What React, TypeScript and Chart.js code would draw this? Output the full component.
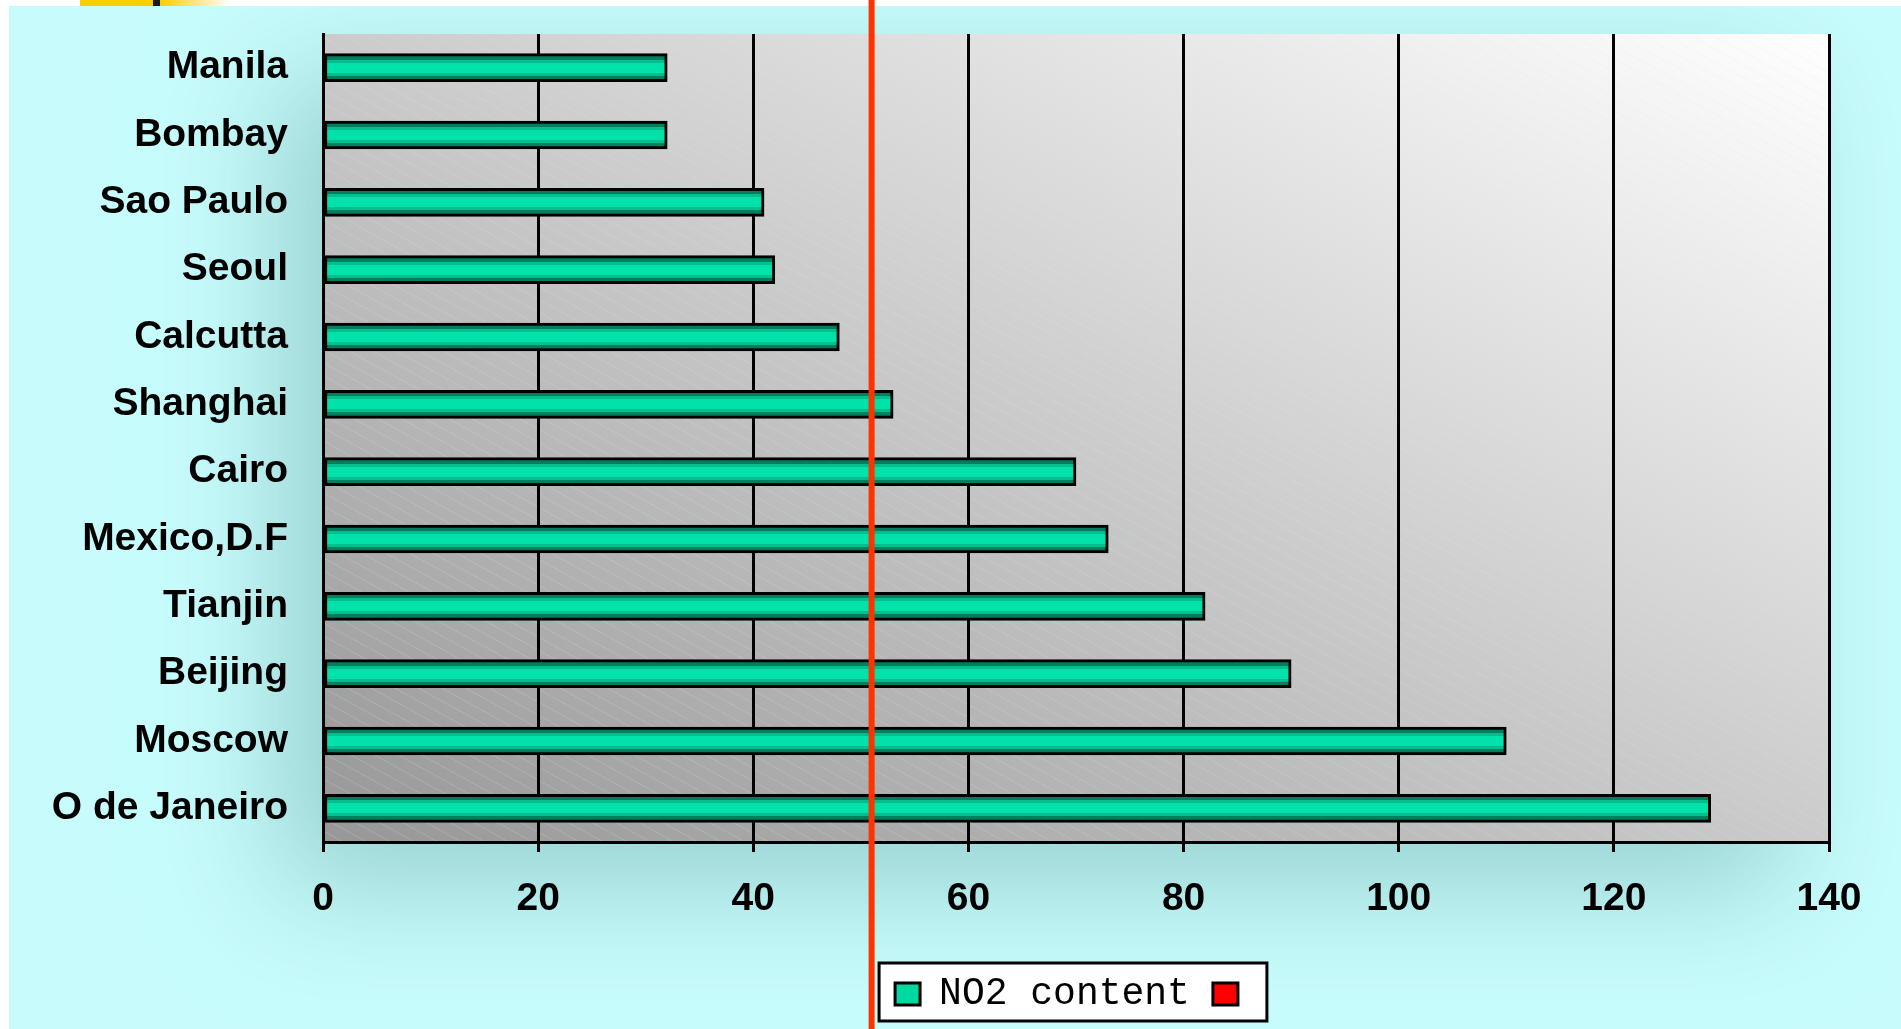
import React, { useEffect, useRef } from "react";
import { Chart, registerables } from "chart.js";

Chart.register(...registerables);

const CITIES = [
  "Manila",
  "Bombay",
  "Sao Paulo",
  "Seoul",
  "Calcutta",
  "Shanghai",
  "Cairo",
  "Mexico,D.F",
  "Tianjin",
  "Beijing",
  "Moscow",
  "O de Janeiro",
];
const NO2_VALUES = [32, 32, 41, 42, 48, 53, 70, 73, 82, 90, 110, 129];
const SERIES_LABEL = "NO2 content";
const SECOND_LABEL = "";
const X_MIN = 0;
const X_MAX = 140;
const X_STEP = 20;
const MARKER_VALUE = 51;

const W = 1901;
const H = 1029;
const BAR_T = 28;
const LEG_PAD = 23;
const GREEN = "#00E2AA";

const bandGradient = (ctx: any) => {
  const chart = ctx.chart;
  const ys = chart.scales && chart.scales.y;
  if (ctx.type !== "data" || !ys || !chart.chartArea) return GREEN;
  const c = ys.getPixelForValue(ctx.dataIndex);
  if (!isFinite(c)) return GREEN;
  const t = c - BAR_T / 2;
  const g = chart.ctx.createLinearGradient(0, t, 0, t + BAR_T);
  const bands: [number, string][] = [
    [0, "#007E5E"],
    [6, "#00BE8E"],
    [9, GREEN],
    [19, "#00BE8E"],
    [22, "#007E5E"],
  ];
  for (let i = 0; i < bands.length; i++) {
    const s = bands[i][0] / BAR_T;
    const e = (i + 1 < bands.length ? bands[i + 1][0] : BAR_T) / BAR_T;
    g.addColorStop(s, bands[i][1]);
    g.addColorStop(Math.min(1, e - 0.0001), bands[i][1]);
  }
  return g;
};

const backgroundPlugin = {
  id: "pageBackground",
  beforeDraw(chart: any) {
    const { ctx, chartArea: a } = chart;
    ctx.save();
    ctx.fillStyle = "#FFFFFF";
    ctx.fillRect(0, 0, W, H);
    // top decoration
    ctx.fillStyle = "#FFCC00";
    ctx.fillRect(80, 0, 73, 6);
    ctx.fillStyle = "#1A1A1A";
    ctx.fillRect(153, 0, 7, 6);
    const yg = ctx.createLinearGradient(160, 0, 230, 0);
    yg.addColorStop(0, "#FFCC00");
    yg.addColorStop(1, "#FFFFFF");
    ctx.fillStyle = yg;
    ctx.fillRect(160, 0, 70, 6);
    // cyan slide
    ctx.fillStyle = "#C8FCFC";
    ctx.fillRect(9, 6, W - 9, H - 6);
    // soft shadow
    ctx.save();
    ctx.beginPath();
    ctx.rect(9, 6, W - 9, H - 6);
    ctx.clip();
    ctx.shadowColor = "rgba(0,70,70,0.24)";
    ctx.shadowBlur = 110;
    ctx.shadowOffsetX = -45;
    ctx.shadowOffsetY = 45;
    ctx.fillStyle = "#C8FCFC";
    ctx.fillRect(a.left, a.top, a.right - a.left, a.bottom - a.top);
    ctx.restore();
    // plot area gradient
    const w = a.right - a.left;
    const h = a.bottom - a.top;
    const cx = (a.left + a.right) / 2;
    const cy = (a.top + a.bottom) / 2;
    const s = (w * h) / (w * w + h * h);
    const pg = ctx.createLinearGradient(cx - s * h, cy + s * w, cx + s * h, cy - s * w);
    pg.addColorStop(0, "#979797");
    pg.addColorStop(1, "#FFFFFF");
    ctx.fillStyle = pg;
    ctx.fillRect(a.left, a.top, w, h);
    // faint hatch
    ctx.save();
    ctx.beginPath();
    ctx.rect(a.left, a.top, w, h);
    ctx.clip();
    ctx.strokeStyle = "rgba(200,240,240,0.22)";
    ctx.lineWidth = 1;
    for (let y0 = a.top - w * 0.55; y0 < a.bottom; y0 += 13) {
      ctx.beginPath();
      ctx.moveTo(a.left, y0);
      ctx.lineTo(a.right, y0 + w * 0.55);
      ctx.stroke();
    }
    ctx.restore();
    // legend frame
    const lg = chart.legend;
    if (lg && lg.lineWidths) {
      const lw = lg.lineWidths[0];
      const startX = (lg.left + LEG_PAD + lg.right - lw) / 2;
      const itemTop = lg.top + LEG_PAD;
      const items = lg.legendItems || [];
      ctx.font = "38px 'Liberation Mono'";
      const w1 = 25 + 19 + ctx.measureText(items[0] ? items[0].text : "").width;
      const x0 = startX - 16;
      const x1 = startX + w1 + LEG_PAD + 25 + 29;
      const y0 = itemTop - 12;
      const y1 = itemTop + 38 + 8;
      ctx.fillStyle = "#FFFFFF";
      ctx.fillRect(x0, y0, x1 - x0, y1 - y0);
      ctx.strokeStyle = "#000000";
      ctx.lineWidth = 3;
      ctx.strokeRect(x0, y0, x1 - x0, y1 - y0);
    }
    ctx.restore();
  },
};

const markerPlugin = {
  id: "markerLine",
  afterDraw(chart: any) {
    const { ctx } = chart;
    const x = chart.scales.x.getPixelForValue(MARKER_VALUE);
    ctx.save();
    ctx.fillStyle = "#FF3300";
    ctx.fillRect(x - 3, 0, 6, H);
    ctx.restore();
  },
};

export default function App() {
  const ref = useRef<HTMLCanvasElement | null>(null);
  useEffect(() => {
    document.body.style.margin = "0";
    const canvas = ref.current;
    if (!canvas) return;
    const chart = new Chart(canvas, {
      type: "bar",
      data: {
        labels: CITIES,
        datasets: [
          {
            label: SERIES_LABEL,
            data: NO2_VALUES,
            backgroundColor: bandGradient as any,
            borderColor: "#000000",
            borderWidth: 3,
            borderSkipped: false,
            barThickness: BAR_T,
            grouped: false,
          } as any,
          {
            label: SECOND_LABEL,
            data: [],
            backgroundColor: "#FF0000",
            borderColor: "#000000",
            borderWidth: 3,
            barThickness: BAR_T,
            grouped: false,
          } as any,
        ],
      },
      options: {
        indexAxis: "y",
        responsive: false,
        animation: false,
        devicePixelRatio: 1,
        layout: { padding: { left: 0, right: W - 1829, top: 34, bottom: 6 } },
        plugins: {
          tooltip: { enabled: false },
          legend: {
            position: "bottom",
            fullSize: false,
            align: "center",
            labels: {
              color: "#000000",
              font: { family: "'Liberation Mono'", size: 38, weight: "normal" },
              boxWidth: 25,
              boxHeight: 22,
              padding: LEG_PAD,
              generateLabels: (chart: any) => {
                const items = (Chart.defaults.plugins.legend.labels as any).generateLabels(chart);
                items.forEach((it: any, i: number) => {
                  it.fillStyle = i === 0 ? "#00D8A2" : "#FF0000";
                  it.strokeStyle = "#000000";
                  it.lineWidth = 3;
                });
                return items;
              },
            },
          },
        },
        scales: {
          x: {
            type: "linear",
            min: X_MIN,
            max: X_MAX,
            afterFit: (s: any) => {
              s.height = 110;
            },
            ticks: {
              stepSize: X_STEP,
              color: "#000000",
              padding: 24,
              font: { family: "'Liberation Sans'", size: 39, weight: "bold" },
            },
            grid: {
              color: "#000000",
              lineWidth: 3,
              tickLength: 10,
              drawTicks: true,
            },
            border: { display: true, color: "#000000", width: 3 },
          },
          y: {
            type: "category",
            afterFit: (s: any) => {
              s.width = 323;
              s.paddingTop = 0;
              s.paddingBottom = 0;
            },
            ticks: {
              color: "#000000",
              padding: 35,
              font: { family: "'Liberation Sans'", size: 39, weight: "bold" },
            },
            grid: { display: false, drawTicks: false },
            border: { display: true, color: "#000000", width: 3 },
          },
        },
      },
      plugins: [backgroundPlugin, markerPlugin],
    });
    return () => chart.destroy();
  }, []);
  return (
    <div style={{ position: "fixed", left: 0, top: 0, width: W, height: H }}>
      <canvas ref={ref} width={W} height={H} style={{ display: "block", width: W, height: H }} />
    </div>
  );
}
